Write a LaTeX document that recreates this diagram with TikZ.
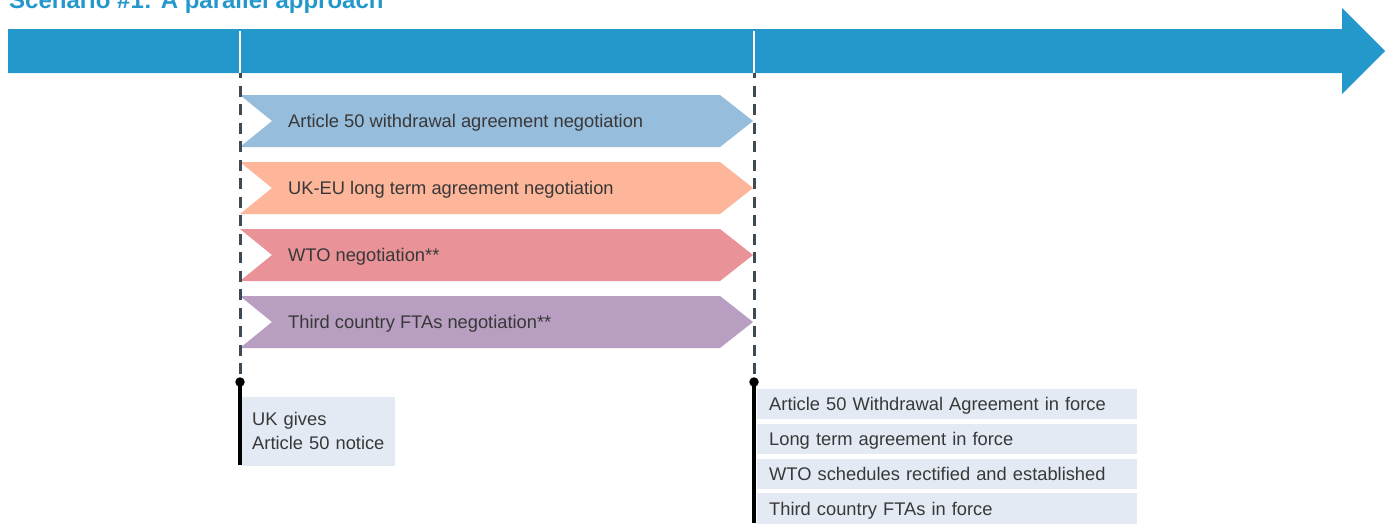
\documentclass[tikz,border=0pt]{standalone}
\usepackage{fontspec}
\setmainfont{Liberation Sans}
\usepackage{tikz}
\definecolor{barblue}{HTML}{2598CB}
\definecolor{negblue}{HTML}{97BDDD}
\definecolor{negorange}{HTML}{FDB699}
\definecolor{negpink}{HTML}{E99298}
\definecolor{negpurple}{HTML}{B89FC1}
\definecolor{boxfill}{HTML}{E3EAF4}
\definecolor{dashgray}{HTML}{3E4A54}
\definecolor{txtgray}{HTML}{383838}

\begin{document}
\begin{tikzpicture}[x=1pt,y=-1pt,
    txt/.style={font=\fontsize{18.3}{24}\selectfont, text=txtgray},
    forcebox/.style={txt, fill=boxfill, anchor=north west, inner xsep=12, inner ysep=0,
        minimum height=30, text width=356, text height=13.1, text depth=0, align=left},
    dashline/.style={dashgray, line width=3, dash pattern=on 11 off 7.5, dash phase=6},
    dot/.style={circle, fill=black, inner sep=0, minimum size=9.5},
    milestone/.style={black, line width=3.8}]
    \useasboundingbox (0,0) rectangle (1391,523);
    % Titulo
    \node[anchor=base west, inner sep=0, text=barblue,
        font=\bfseries\fontsize{24}{28}\selectfont] (title) at (9,8.5) {Scenario \#1: A parallel approach};
    % Flecha de tiempo
    \fill[barblue] (8,29) -- (1342,29) -- (1342,8) -- (1385,51) -- (1342,94) -- (1342,73) -- (8,73) -- cycle;
    \draw[white, line width=2.5] (240,31) -- (240,73);
    \draw[white, line width=2.5] (754,31) -- (754,73);
    % Negociaciones
    \foreach \y/\col/\txt [count=\i] in {95/negblue/Article 50 withdrawal agreement negotiation,
            162/negorange/UK-EU long term agreement negotiation,
            229/negpink/WTO negotiation**,
            296/negpurple/Third country FTAs negotiation**} {
        \fill[\col] (240,\y) -- (720,\y) -- (753,\y+26) -- (720,\y+52) -- (240,\y+52) -- (272,\y+26) -- cycle;
        \node[txt, anchor=base west, inner sep=0] (neg\i) at (288,\y+32.5) {\txt};
    }
    % Hitos
    \coordinate (top1) at (240,73);
    \coordinate (top2) at (754,73);
    \node[dot] (start) at (240,382) {};
    \node[dot] (finish) at (754,382) {};
    \coordinate (end1) at (240,465);
    \coordinate (end2) at (754,523);
    \draw[dashline] (top1) -- (start);
    \draw[dashline] (top2) -- (finish);
    \node[txt, fill=boxfill, anchor=north west, inner xsep=10, inner ysep=0, minimum height=69,
        text width=133, text height=13.1, text depth=26, align=left] (notice) at (242,397) {UK gives\\Article 50 notice};
    \node[forcebox] (force1) at (757,389) {Article 50 Withdrawal Agreement in force};
    \node[forcebox] (force2) at (757,424) {Long term agreement in force};
    \node[forcebox] (force3) at (757,459) {WTO schedules rectified and established};
    \node[forcebox, minimum height=31] (force4) at (757,493) {Third country FTAs in force};
    \draw[milestone] (start.center) -- (end1);
    \draw[milestone] (finish.center) -- (end2);
\end{tikzpicture}
\end{document}
